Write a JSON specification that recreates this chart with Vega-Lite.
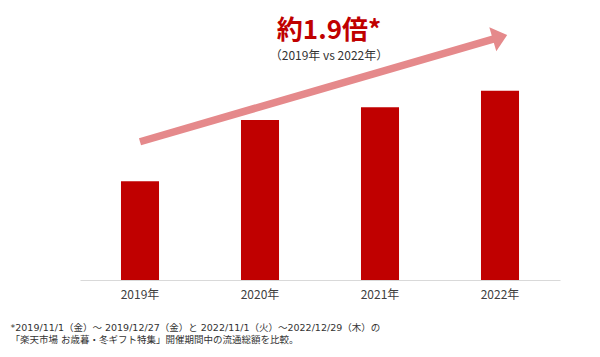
{
  "$schema": "https://vega.github.io/schema/vega-lite/v6.json",
  "width": 480,
  "height": 280,
  "autosize": {"type": "none"},
  "padding": {"left": 80, "top": 0, "right": 40, "bottom": 77},
  "background": "white",
  "config": {"view": {"stroke": null}, "font": "Noto Sans CJK JP"},
  "title": {
    "text": "約1.9倍*",
    "subtitle": "（2019年 vs 2022年）",
    "anchor": "middle",
    "frame": "group",
    "offset": -62,
    "dx": 9,
    "fontSize": 26,
    "fontWeight": "bold",
    "color": "#C00000",
    "subtitleFontSize": 12,
    "subtitleColor": "#333333",
    "subtitleFontWeight": "normal",
    "subtitlePadding": 7
  },
  "datasets": {
    "sales": [
      {"year": "2019年", "value": 100},
      {"year": "2020年", "value": 162.1},
      {"year": "2021年", "value": 175.0},
      {"year": "2022年", "value": 191.7}
    ],
    "trend": [
      {"start_year": "2019年", "end_year": "2022年", "start": 140.1, "end": 246.1}
    ]
  },
  "layer": [
    {
      "data": {"name": "sales"},
      "mark": {"type": "bar", "color": "#C00000"},
      "encoding": {
        "x": {
          "field": "year",
          "type": "nominal",
          "scale": {"domain": ["2019年", "2020年", "2021年", "2022年"], "paddingInner": 0.683, "paddingOuter": 0.3415},
          "axis": {
            "title": ["*2019/11/1（金）～ 2019/12/27（金）と 2022/11/1（火）～2022/12/29（木）の", "「楽天市場 お歳暮・冬ギフト特集」開催期間中の流通総額を比較。"],
            "titleX": -70,
            "titleY": 42,
            "titleAlign": "left",
            "titleAnchor": "start",
            "titleBaseline": "top",
            "titleFont": "DejaVu Sans, Noto Sans CJK JP",
            "titleFontSize": 9.5,
            "titleFontWeight": "normal",
            "titleColor": "#333333",
            "titleLineHeight": 12.5,
            "labelAngle": 0,
            "labelFontSize": 12,
            "labelColor": "#404040",
            "labelPadding": 9,
            "ticks": false,
            "domainColor": "#D9D9D9",
            "domainWidth": 1,
            "grid": false
          }
        },
        "y": {"field": "value", "type": "quantitative", "scale": {"domain": [0, 283.7], "nice": false}, "axis": null}
      }
    },
    {
      "data": {"name": "trend"},
      "mark": {"type": "rule", "color": "#E5898B", "strokeWidth": 7.5},
      "encoding": {
        "x": {"field": "start_year", "type": "nominal"},
        "x2": {"field": "end_year"},
        "y": {"field": "start", "type": "quantitative", "axis": null},
        "y2": {"field": "end"}
      }
    },
    {
      "data": {"name": "trend"},
      "mark": {"type": "point", "shape": "M-0.6,-1L0.6,0L-0.6,1Z", "filled": true, "size": 625, "angle": 343.8, "color": "#E5898B", "opacity": 1},
      "encoding": {
        "x": {"field": "end_year", "type": "nominal"},
        "y": {"field": "end", "type": "quantitative", "axis": null}
      }
    }
  ]
}
